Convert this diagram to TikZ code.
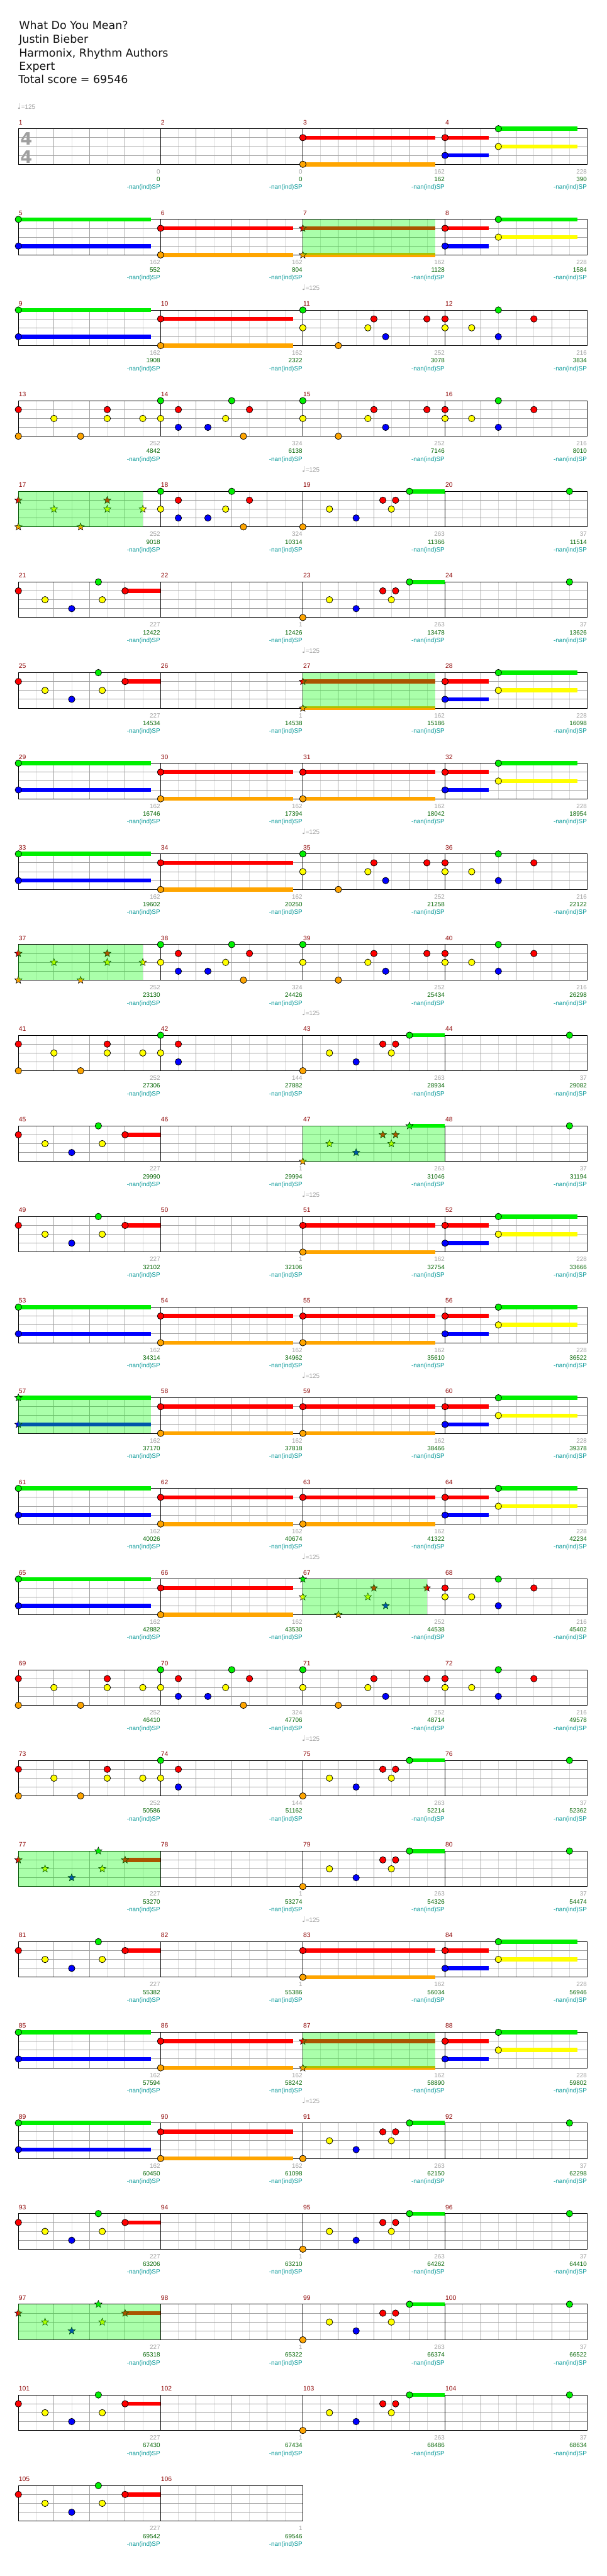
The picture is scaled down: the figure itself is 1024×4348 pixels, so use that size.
\documentclass[tikz,border=0pt]{standalone}
\usepackage{fontspec}
\setmainfont{DejaVu Sans}
\newfontfamily\lib{Liberation Sans}
\newfontfamily\djv{DejaVu Sans}
\usetikzlibrary{shapes.geometric}
\definecolor{cG}{RGB}{0,240,0}
\definecolor{cR}{RGB}{255,0,0}
\definecolor{cY}{RGB}{255,255,0}
\definecolor{cB}{RGB}{0,0,255}
\definecolor{cO}{RGB}{255,165,0}
\definecolor{lgc}{RGB}{220,220,220}
\definecolor{dgc}{RGB}{160,160,160}
\definecolor{mnc}{RGB}{140,0,0}
\definecolor{sgc}{RGB}{0,100,0}
\definecolor{stc}{RGB}{0,150,150}
\definecolor{hdc}{RGB}{20,20,20}
\def\offG{0}\def\offR{15}\def\offY{30}\def\offB{45}\def\offO{60}
\newif\ifspn
\tikzset{
  notec/.style={draw=black, line width=0.8pt},
  sstar/.style={star, star points=5, star point ratio=2.3, minimum size=13pt, inner sep=0pt, draw=black, line width=0.6pt},
  sus/.style={line width=7pt},
  lgl/.style={draw=lgc, line width=1pt},
  dgl/.style={draw=dgc, line width=1pt},
  bl/.style={draw=black, line width=1pt},
  mnum/.style={text=mnc, font=\lib\fontsize{11}{12}\selectfont, inner sep=0pt},
  sgray/.style={text=dgc, font=\lib\fontsize{10.5}{12}\selectfont, inner sep=0pt},
  sgreen/.style={text=sgc, font=\lib\fontsize{10.5}{12}\selectfont, inner sep=0pt},
  steal/.style={text=stc, font=\lib\fontsize{10.5}{12}\selectfont, inner sep=0pt},
  hdr/.style={text=hdc, font=\djv\fontsize{18.5}{20}\selectfont, inner sep=0pt, anchor=base west},
  tempo/.style={text=dgc, font=\lib\fontsize{10.5}{12}\selectfont, inner sep=0pt, anchor=base west},
  tsig/.style={text=dgc, font=\djv\bfseries\fontsize{29}{29}\selectfont, inner sep=0pt}
}
% note and sustain
\newcommand\NT[2]{%
  \ifspn
    \node[sstar, fill=c#1] at ({\mx+60*#2},{\rT+\csname off#1\endcsname}) {};
  \else
    \draw[notec, fill=c#1] ({\mx+60*#2},{\rT+\csname off#1\endcsname}) circle (5.5pt);
  \fi}
\newcommand\SU[3]{\draw[sus, c#1] ({\mx+60*#2},{\rT+\csname off#1\endcsname}) -- ({\mx+60*#3},{\rT+\csname off#1\endcsname});}
% patterns
\def\pE{}
\def\pGB{\SU{G}{0}{3.73}\SU{B}{0}{3.73}\NT{G}{0}\NT{B}{0}}
\def\pRO{\SU{R}{0}{3.73}\SU{O}{0}{3.73}\NT{R}{0}\NT{O}{0}}
\def\pRBGY{\SU{R}{0}{1.23}\SU{B}{0}{1.23}\SU{G}{1.5}{3.73}\SU{Y}{1.5}{3.73}\NT{R}{0}\NT{B}{0}\NT{G}{1.5}\NT{Y}{1.5}}
\def\pXa{\NT{G}{0}\NT{Y}{0}\NT{O}{1}\NT{Y}{1.83}\NT{R}{2}\NT{B}{2.33}\NT{R}{3.49}}
\def\pXb{\NT{R}{0}\NT{Y}{0}\NT{Y}{0.75}\NT{G}{1.5}\NT{B}{1.5}\NT{R}{2.5}}
\def\pXc{\NT{R}{0}\NT{O}{0}\NT{Y}{1}\NT{O}{1.75}\NT{R}{2.5}\NT{Y}{2.5}\NT{Y}{3.5}}
\def\pXd{\NT{G}{0}\NT{Y}{0}\NT{R}{0.5}\NT{B}{0.5}\NT{B}{1.33}\NT{Y}{1.83}\NT{G}{2}\NT{O}{2.33}\NT{R}{2.5}}
\def\pXe{\SU{G}{3}{4}\NT{O}{0}\NT{Y}{0.75}\NT{B}{1.5}\NT{R}{2.25}\NT{Y}{2.49}\NT{R}{2.61}\NT{G}{3}}
\def\pXf{\NT{G}{3.5}}
\def\pXg{\SU{R}{3}{4}\NT{R}{0}\NT{Y}{0.75}\NT{B}{1.5}\NT{G}{2.25}\NT{Y}{2.36}\NT{R}{3}}
\def\pXh{\NT{G}{0}\NT{Y}{0}\NT{R}{0.5}\NT{B}{0.5}}
% grid of a row
\newcommand\RowGrid[2]{%
  \pgfmathsetmacro\rT{217.3+153*(#1-1)}%
  \pgfmathsetmacro\xe{31+240*#2}%
  \pgfmathtruncatemacro\nh{8*#2-1}%
  \pgfmathtruncatemacro\nb{4*#2-1}%
  \pgfmathtruncatemacro\nm{#2-1}%
  \draw[lgl] foreach \i in {1,...,\nh} {({31+30*\i},\rT) -- ({31+30*\i},{\rT+60})};
  \draw[dgl] foreach \i in {1,...,\nb} {({31+60*\i},\rT) -- ({31+60*\i},{\rT+60})};
  \draw[dgl] (31,{\rT+15}) -- (\xe,{\rT+15}) (31,{\rT+30}) -- (\xe,{\rT+30}) (31,{\rT+45}) -- (\xe,{\rT+45});
  \draw[bl] foreach \i in {1,...,\nm} {({31+240*\i},\rT) -- ({31+240*\i},{\rT+60})};
  \draw[bl] (31,\rT) rectangle (\xe,{\rT+60});
}
\newcommand\MText[2]{%
  \node[mnum, anchor=base west] (m\mn) at ({\mx+0.5},{\rT-7}) {\mn};
  \node[sgray, anchor=base east] (g\mn) at ({\mx+239.5},{\rT+76}) {#1};
  \node[sgreen, anchor=base east] (s\mn) at ({\mx+239.5},{\rT+89}) {#2};
  \node[steal, anchor=base east] (p\mn) at ({\mx+239.5},{\rT+102}) {-nan(ind)SP};
}
\newcommand\Meas[5]{%
  \pgfmathsetmacro\rT{217.3+153*(#1-1)}%
  \pgfmathsetmacro\mx{31+240*#2}%
  \pgfmathtruncatemacro\mn{4*(#1-1)+#2+1}%
  #3%
  \MText{#4}{#5}%
}
\newcommand\MeasSP[7]{%
  \pgfmathsetmacro\rT{217.3+153*(#1-1)}%
  \pgfmathsetmacro\mx{31+240*#2}%
  \pgfmathtruncatemacro\mn{4*(#1-1)+#2+1}%
  \spntrue #3\spnfalse
  \fill[green, opacity=0.333] ({\mx+60*#6},\rT) rectangle ({\mx+60*#7},{\rT+60});
  \MText{#4}{#5}%
}
\newcommand\Tempo[3]{\node[tempo] (#1) at (#2,#3) {{\djv\fontsize{13}{13}\selectfont ♩}=125};}
\begin{document}
\begin{tikzpicture}[x=1pt, y=-1pt]
\useasboundingbox[fill=white] (0,0) rectangle (1024,4348);
% header
\node[hdr] (title) at (32,49.3) {What Do You Mean?};
\node[hdr] (artist) at (32,72.7) {Justin Bieber};
\node[hdr] (author) at (32,95.7) {Harmonix, Rhythm Authors};
\node[hdr] (diff) at (32,118.3) {Expert};
\node[hdr] (total) at (31,140.7) {Total score = 69546};
\Tempo{tp1}{29.5}{184.3}
\foreach \r in {3,5,...,23} {\pgfmathsetmacro\ty{217.3+153*(\r-1)-33}\Tempo{tp\r}{509.5}{\ty}}
% rows
\RowGrid{1}{4}
\node[tsig] (ts1) at (44.5,234) {4};
\node[tsig] (ts2) at (44.5,265) {4};
\Meas{1}{0}{\pE}{0}{0}\Meas{1}{1}{\pE}{0}{0}\Meas{1}{2}{\pRO}{162}{162}\Meas{1}{3}{\pRBGY}{228}{390}
\RowGrid{2}{4}
\Meas{2}{0}{\pGB}{162}{552}\Meas{2}{1}{\pRO}{162}{804}\MeasSP{2}{2}{\pRO}{162}{1128}{0}{3.73}\Meas{2}{3}{\pRBGY}{228}{1584}
\RowGrid{3}{4}
\Meas{3}{0}{\pGB}{162}{1908}\Meas{3}{1}{\pRO}{162}{2322}\Meas{3}{2}{\pXa}{252}{3078}\Meas{3}{3}{\pXb}{216}{3834}
\RowGrid{4}{4}
\Meas{4}{0}{\pXc}{252}{4842}\Meas{4}{1}{\pXd}{324}{6138}\Meas{4}{2}{\pXa}{252}{7146}\Meas{4}{3}{\pXb}{216}{8010}
\RowGrid{5}{4}
\MeasSP{5}{0}{\pXc}{252}{9018}{0}{3.5}\Meas{5}{1}{\pXd}{324}{10314}\Meas{5}{2}{\pXe}{263}{11366}\Meas{5}{3}{\pXf}{37}{11514}
\RowGrid{6}{4}
\Meas{6}{0}{\pXg}{227}{12422}\Meas{6}{1}{\pE}{1}{12426}\Meas{6}{2}{\pXe}{263}{13478}\Meas{6}{3}{\pXf}{37}{13626}
\RowGrid{7}{4}
\Meas{7}{0}{\pXg}{227}{14534}\Meas{7}{1}{\pE}{1}{14538}\MeasSP{7}{2}{\pRO}{162}{15186}{0}{3.73}\Meas{7}{3}{\pRBGY}{228}{16098}
\RowGrid{8}{4}
\Meas{8}{0}{\pGB}{162}{16746}\Meas{8}{1}{\pRO}{162}{17394}\Meas{8}{2}{\pRO}{162}{18042}\Meas{8}{3}{\pRBGY}{228}{18954}
\RowGrid{9}{4}
\Meas{9}{0}{\pGB}{162}{19602}\Meas{9}{1}{\pRO}{162}{20250}\Meas{9}{2}{\pXa}{252}{21258}\Meas{9}{3}{\pXb}{216}{22122}
\RowGrid{10}{4}
\MeasSP{10}{0}{\pXc}{252}{23130}{0}{3.5}\Meas{10}{1}{\pXd}{324}{24426}\Meas{10}{2}{\pXa}{252}{25434}\Meas{10}{3}{\pXb}{216}{26298}
\RowGrid{11}{4}
\Meas{11}{0}{\pXc}{252}{27306}\Meas{11}{1}{\pXh}{144}{27882}\Meas{11}{2}{\pXe}{263}{28934}\Meas{11}{3}{\pXf}{37}{29082}
\RowGrid{12}{4}
\Meas{12}{0}{\pXg}{227}{29990}\Meas{12}{1}{\pE}{1}{29994}\MeasSP{12}{2}{\pXe}{263}{31046}{0}{4}\Meas{12}{3}{\pXf}{37}{31194}
\RowGrid{13}{4}
\Meas{13}{0}{\pXg}{227}{32102}\Meas{13}{1}{\pE}{1}{32106}\Meas{13}{2}{\pRO}{162}{32754}\Meas{13}{3}{\pRBGY}{228}{33666}
\RowGrid{14}{4}
\Meas{14}{0}{\pGB}{162}{34314}\Meas{14}{1}{\pRO}{162}{34962}\Meas{14}{2}{\pRO}{162}{35610}\Meas{14}{3}{\pRBGY}{228}{36522}
\RowGrid{15}{4}
\MeasSP{15}{0}{\pGB}{162}{37170}{0}{3.73}\Meas{15}{1}{\pRO}{162}{37818}\Meas{15}{2}{\pRO}{162}{38466}\Meas{15}{3}{\pRBGY}{228}{39378}
\RowGrid{16}{4}
\Meas{16}{0}{\pGB}{162}{40026}\Meas{16}{1}{\pRO}{162}{40674}\Meas{16}{2}{\pRO}{162}{41322}\Meas{16}{3}{\pRBGY}{228}{42234}
\RowGrid{17}{4}
\Meas{17}{0}{\pGB}{162}{42882}\Meas{17}{1}{\pRO}{162}{43530}\MeasSP{17}{2}{\pXa}{252}{44538}{0}{3.49}\Meas{17}{3}{\pXb}{216}{45402}
\RowGrid{18}{4}
\Meas{18}{0}{\pXc}{252}{46410}\Meas{18}{1}{\pXd}{324}{47706}\Meas{18}{2}{\pXa}{252}{48714}\Meas{18}{3}{\pXb}{216}{49578}
\RowGrid{19}{4}
\Meas{19}{0}{\pXc}{252}{50586}\Meas{19}{1}{\pXh}{144}{51162}\Meas{19}{2}{\pXe}{263}{52214}\Meas{19}{3}{\pXf}{37}{52362}
\RowGrid{20}{4}
\MeasSP{20}{0}{\pXg}{227}{53270}{0}{4}\Meas{20}{1}{\pE}{1}{53274}\Meas{20}{2}{\pXe}{263}{54326}\Meas{20}{3}{\pXf}{37}{54474}
\RowGrid{21}{4}
\Meas{21}{0}{\pXg}{227}{55382}\Meas{21}{1}{\pE}{1}{55386}\Meas{21}{2}{\pRO}{162}{56034}\Meas{21}{3}{\pRBGY}{228}{56946}
\RowGrid{22}{4}
\Meas{22}{0}{\pGB}{162}{57594}\Meas{22}{1}{\pRO}{162}{58242}\MeasSP{22}{2}{\pRO}{162}{58890}{0}{3.73}\Meas{22}{3}{\pRBGY}{228}{59802}
\RowGrid{23}{4}
\Meas{23}{0}{\pGB}{162}{60450}\Meas{23}{1}{\pRO}{162}{61098}\Meas{23}{2}{\pXe}{263}{62150}\Meas{23}{3}{\pXf}{37}{62298}
\RowGrid{24}{4}
\Meas{24}{0}{\pXg}{227}{63206}\Meas{24}{1}{\pE}{1}{63210}\Meas{24}{2}{\pXe}{263}{64262}\Meas{24}{3}{\pXf}{37}{64410}
\RowGrid{25}{4}
\MeasSP{25}{0}{\pXg}{227}{65318}{0}{4}\Meas{25}{1}{\pE}{1}{65322}\Meas{25}{2}{\pXe}{263}{66374}\Meas{25}{3}{\pXf}{37}{66522}
\RowGrid{26}{4}
\Meas{26}{0}{\pXg}{227}{67430}\Meas{26}{1}{\pE}{1}{67434}\Meas{26}{2}{\pXe}{263}{68486}\Meas{26}{3}{\pXf}{37}{68634}
\RowGrid{27}{2}
\Meas{27}{0}{\pXg}{227}{69542}\Meas{27}{1}{\pE}{1}{69546}
\end{tikzpicture}
\end{document}
